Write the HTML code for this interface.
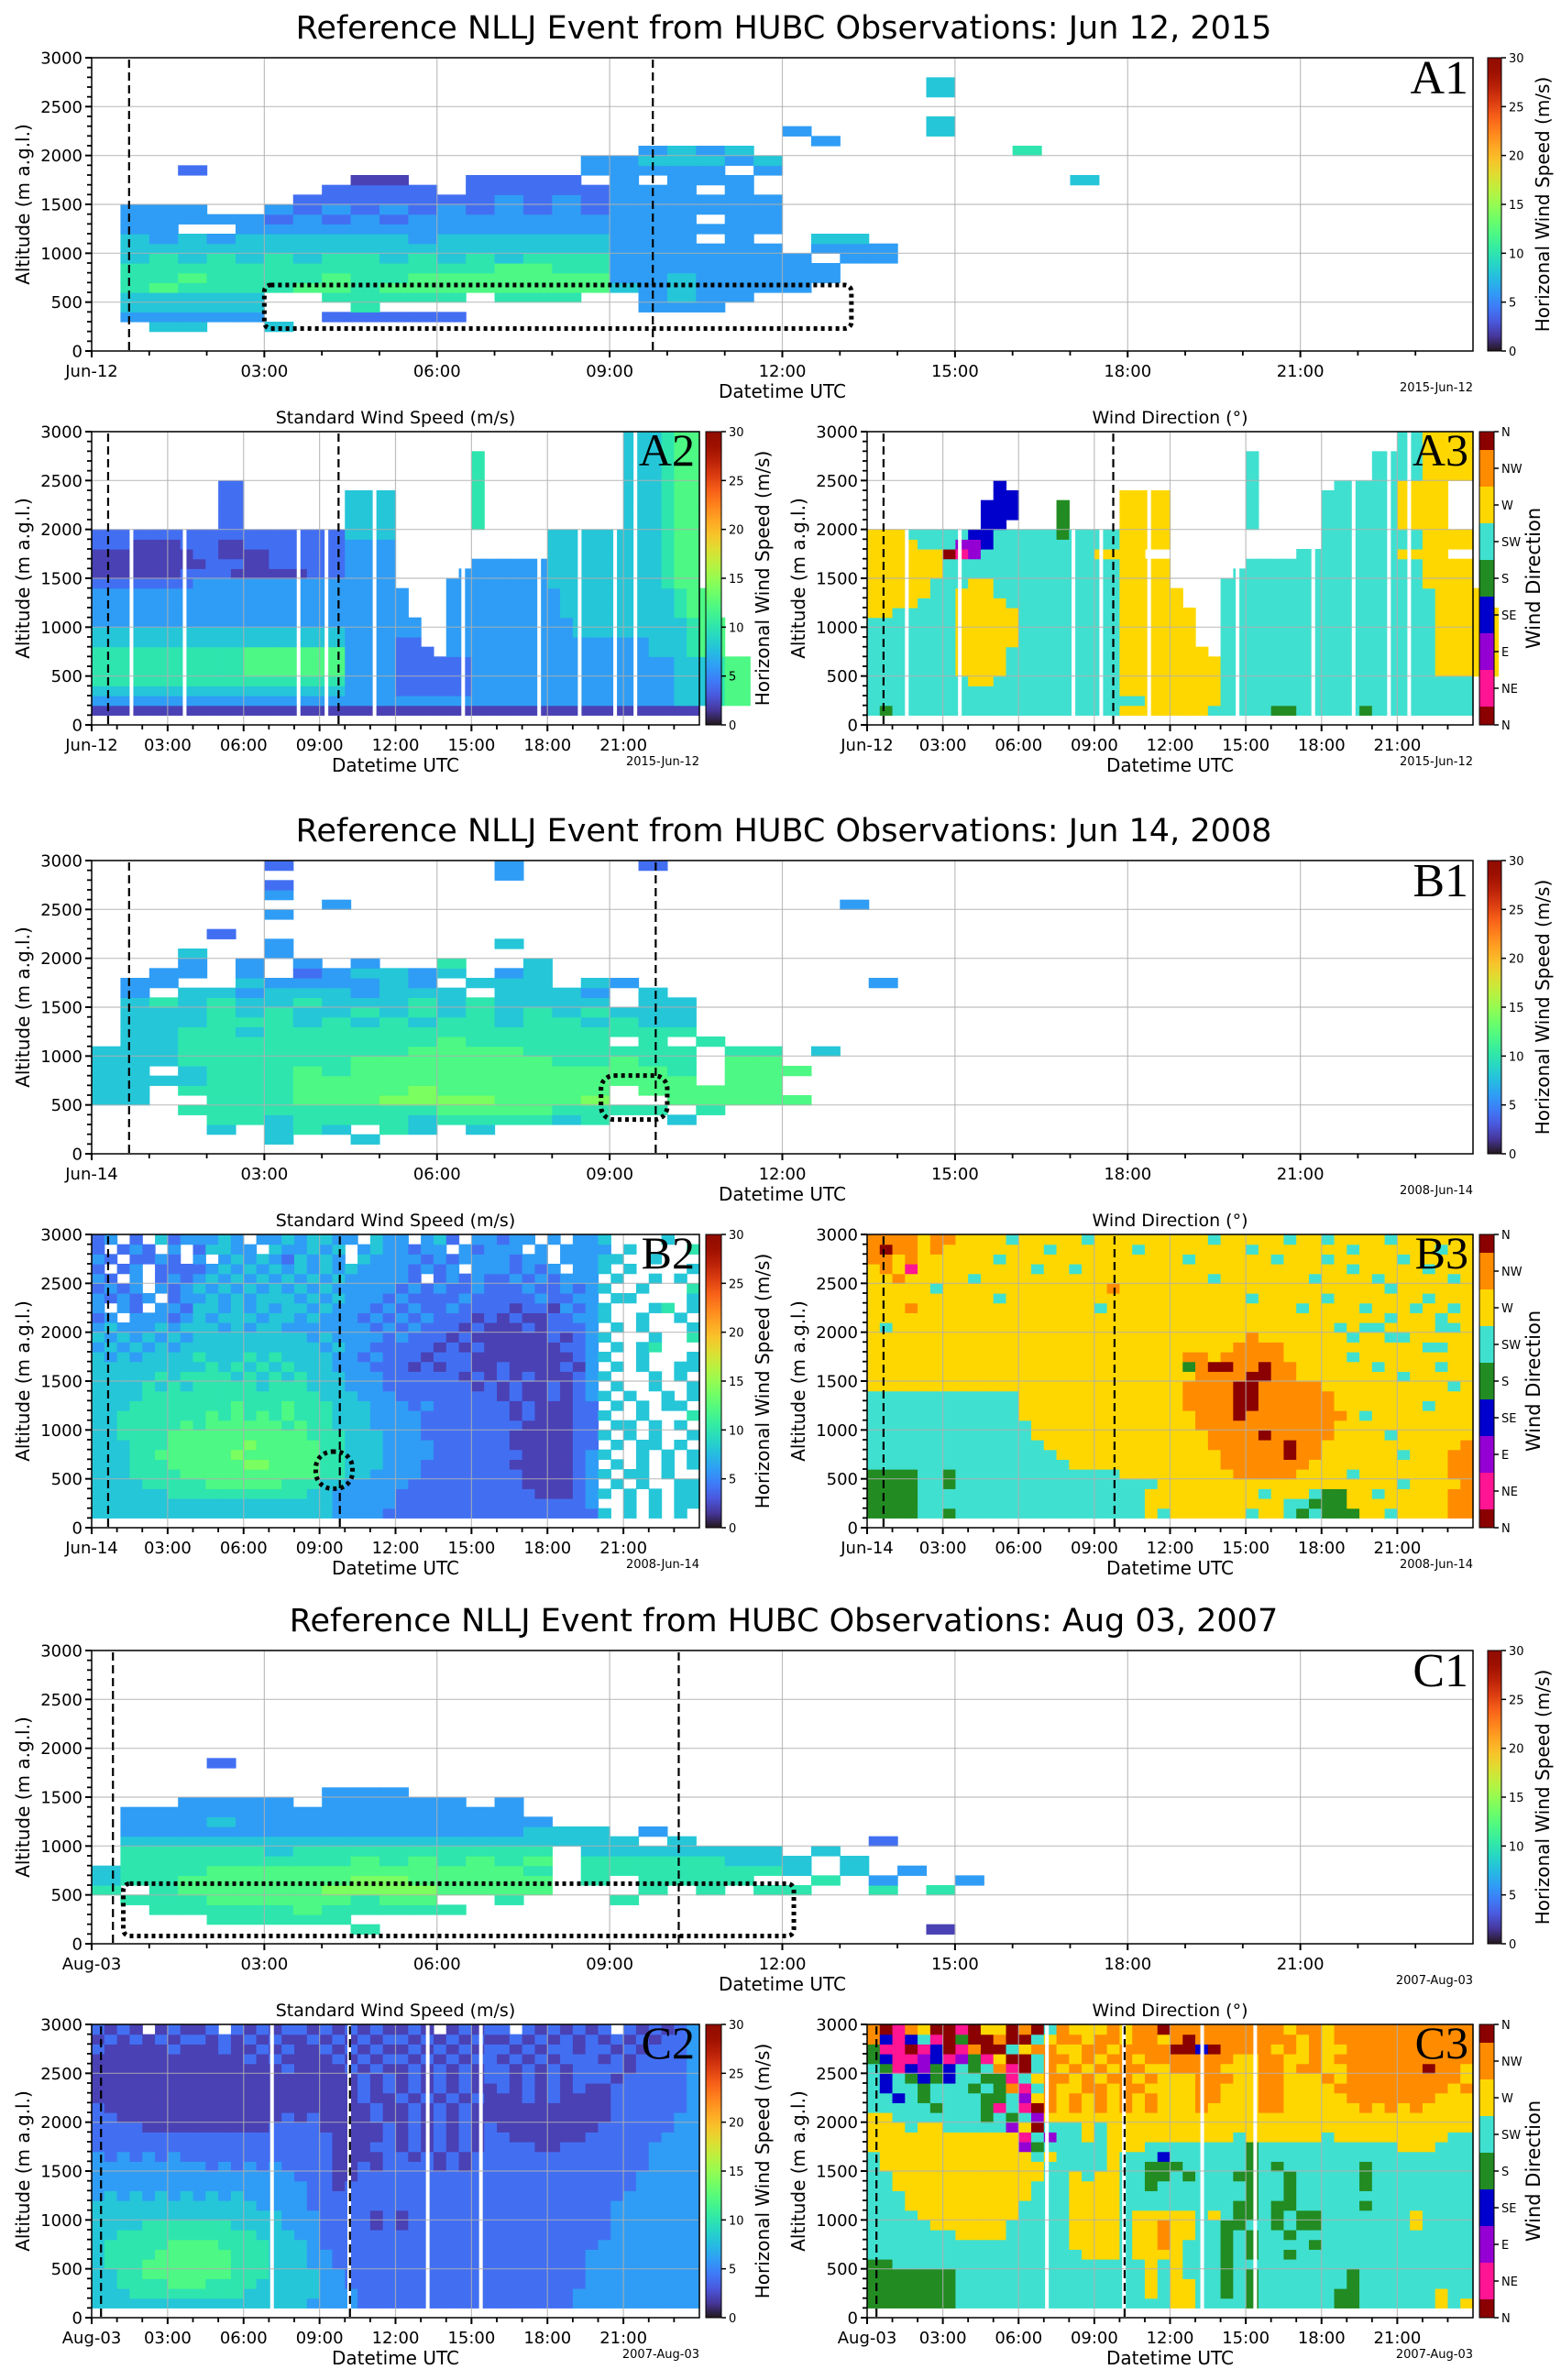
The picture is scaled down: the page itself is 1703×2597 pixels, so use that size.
<!DOCTYPE html>
<html><head><meta charset="utf-8"><title>Reference NLLJ Events</title>
<style>
html,body{margin:0;padding:0;background:#fff;}
svg{display:block;font-family:"DejaVu Sans","Liberation Sans",sans-serif;}
</style></head>
<body>
<svg id="fig" xmlns="http://www.w3.org/2000/svg" width="1703" height="2597" viewBox="0 0 1703 2597">
<defs>
<linearGradient id="turboGrad" x1="0" y1="1" x2="0" y2="0"></linearGradient>
</defs>
</svg>
<script>
// ---------------- DATA ----------------
// Speed grids: char digit d -> wind speed value d*2 m/s ; '.' = no data
// Direction grids: t=SW w=W o=NW r=N p=NE e=E b=SE s=S
// Rows keyed by bottom altitude (m) of 100 m bins; columns = 30 min bins (48 per day)
const sectionTitles = ["Reference NLLJ Event from HUBC Observations: Jun 12, 2015","Reference NLLJ Event from HUBC Observations: Jun 14, 2008","Reference NLLJ Event from HUBC Observations: Aug 03, 2007"];
const dayLabels = ["Jun-12","Jun-14","Aug-03"];
const dateNotes = ["2015-Jun-12","2008-Jun-14","2007-Aug-03"];
const xTickHours = [0,3,6,9,12,15,18,21];
const xTickTimes = ["03:00","06:00","09:00","12:00","15:00","18:00","21:00"];
const yTickValues = [0,500,1000,1500,2000,2500,3000];
const speedTicks = [0,5,10,15,20,25,30];
const dirTicks = ["N","NE","E","SE","S","SW","W","NW","N"];
const dashedA = [0.65,9.75];
const dashedB = [0.65,9.8];
const dashedC = [0.37,10.2];
const boxA1 = [3.0,13.2,230,675];
const boxB1 = [8.85,10.0,350,800];
const boxB2 = [8.85,10.3,400,778];
const boxC1 = [0.55,12.2,80,615];
const gapsA2 = [1.5,3.6,8.1,9.2,11.1,14.6,17.6,19.2,20.6,21.4];
const gapsA3 = [1.5,3.6,8.1,9.2,11.1,14.6,17.6,19.2,20.6,21.4];
const gapsC2 = [7.05,10.1,13.2,15.3];
const gapsC3 = [7.05,10.1,13.2,15.3];

const a1Rows = {
2700:"........|........|........|.....4..|........|........",
2600:"........|........|........|.....4..|........|........",
2300:"........|........|........|.....4..|........|........",
2200:"........|........|........|3....4..|........|........",
2100:"........|........|........|.3......|........|........",
2000:"........|........|...3434.|........|5.......|........",
1900:"........|........|.3344434|........|........|........",
1800:"...2....|........|.33333.3|........|........|........",
1700:"........|.11..222|2.3.333.|........|..4.....|........",
1600:"........|2222.222|22333.3.|........|........|........",
1500:".......2|22222232|32333333|........|........|........",
1400:".333..32|32323232|32333333|........|........|........",
1300:".3333323|23233333|33333.33|........|........|........",
1200:".33..333|33333333|33333333|........|........|........",
1100:".4343444|44434444|44333.3.|.44.....|........|........",
1000:".4444444|44444444|44333333|.333....|........|........",
900:".4545454|55454545|55333333|3.33....|........|........",
800:".5555555|55555566|55333333|33......|........|........",
700:".5565555|65566666|66334333|33......|........|........",
600:".5655556|65666666|66434333|3.......|........|........",
500:".44444..|55555.55|5..3433.|........|........|........",
400:".44444..|.5......|...333..|........|........|........",
300:".33333..|22222...|........|........|........|........",
200:"..44..4.|........|........|........|........|........"
};
const a2Rows = {
2900:".42 43 5 62",2800:".42 43 5 62",2700:".30 5 .11 43 5 62",2600:".30 5 .11 43 5 62",2500:".30 5 .11 43 5 62",
2400:".10 22 .18 5 .11 43 5 62",2300:".10 22 .8 44 .6 5 .11 43 5 62",2200:".10 22 .8 44 .6 5 .11 43 5 62",
2100:".10 22 .8 44 .6 5 .11 43 5 62",2000:".10 22 .8 44 .6 5 .11 43 5 62",
1900:"220 44 .12 46 43 5 62",1800:"23 14 23 12 28 34 .12 46 43 5 62",1700:"18 22 14 26 34 .12 46 43 5 62",
1600:"19 23 12 26 34 .6 36 46 43 5 62",1500:"17 24 16 23 34 .5 37 46 43 5 62",1400:"28 312 34 .4 38 46 43 5 62",
1300:"320 34 3 .3 39 46 43 5 62",1200:"320 34 3 .3 39 46 43 5 62",1100:"320 34 3 .3 39 46 43 5 62",
1000:"320 34 32 .2 310 46 43 5 62",900:"420 34 32 .2 310 46 43 5 62",800:"420 34 22 .2 310 36 43 5 62",
700:"512 68 34 23 . 310 36 43 5 62",600:"512 68 34 26 310 36 43 5 62",500:"512 68 34 26 310 36 43 5 62",
400:"520 34 26 310 36 43 5 62",300:"420 34 26 310 36 43 5 62",200:"320 34 36 310 36 43 5 62",100:"148"
};
const a3Rows = {
2900:".42 t2 w4",2800:".42 t2 w4",2700:".30 t .9 t4 w4",2600:".30 t .9 t4 w4",2500:".30 t .9 t4 w4",
2400:".10 b .19 t .6 t5 w4",2300:".10 b2 .8 w4 .6 t .5 t6 w4",2200:".9 b3 .3 s .4 w4 .6 t .5 t6 w4",
2100:".9 b3 .3 s .4 w4 .6 t .5 t6 w4",2000:".9 b2 .4 s .4 w4 .6 t .5 t6 w4",
1900:"w3 t5 b2 t5 s t4 w4 .12 t6 t2 w4",1800:"w4 t3 e2 b t10 w4 .12 t6 t2 w4",1700:"w6 r p e t9 w4 .12 t6 t2 w4",
1600:"w6 t14 w4 .6 t6 t6 t2 w4",1500:"w6 t14 w4 .5 t7 t6 t2 w4",1400:"w5 t3 w2 t10 w4 .4 t8 t6 t2 w4",
1300:"w5 t2 w3 t10 w5 .3 t9 t6 t2 w4",1200:"w4 t3 w4 t9 w5 .3 t9 t6 t2 w4",1100:"w2 t5 w5 t8 w6 .2 t10 t6 t w5",
1000:"t7 w5 t8 w6 .2 t10 t6 t w5",900:"t7 w5 t8 w6 .2 t10 t6 t w5",800:"t7 w5 t8 w6 .2 t10 t6 t w5",
700:"t7 w4 t9 w7 . t10 t6 t w5",600:"t7 w4 t9 w8 t10 t6 t w5",500:"t7 w4 t9 w8 t10 t6 t w5",
400:"t8 w2 t10 w8 t20",300:"t20 w8 t20",200:"t22 w6 t20",100:"t s t18 w7 t5 s2 t5 s t8"
};
const b1Rows = {
2900:"......2.|......3.|...2....|........|........|........",
2800:"........|......3.|........|........|........|........",
2700:"......2.|........|........|........|........|........",
2600:"......3.|........|........|........|........|........",
2500:"........|3.......|........|..3.....|........|........",
2400:"......3.|........|........|........|........|........",
2200:"....2...|........|........|........|........|........",
2100:"......3.|......4.|........|........|........|........",
2000:"...4..3.|........|........|........|........|........",
1900:"...3.3.3|.3..5..4|........|........|........|........",
1800:"..33.3.2|34434.34|........|........|........|........",
1700:".33..433|3343.444|.43.....|...3....|........|........",
1600:".3.44344|43444.44|43.4....|........|........|........",
1500:".4545445|44454544|44.44...|........|........|........",
1400:".4445454|45454545|45444...|........|........|........",
1300:".4445554|54545545|54544...|........|........|........",
1200:".4455455|55555555|55555...|........|........|........",
1100:".4455555|55556555|55.5.5..|........|........|........",
1000:"44455555|55566665|55555.55|.4......|........|........",
900:"44455555|56666666|55655.66|........|........|........",
800:"44.45556|56666666|66665.66|6.......|........|........",
700:"44445556|66666666|66666.66|........|........|........",
600:"44.55556|66676666|66.66666|........|........|........",
500:"44..5556|66777766|67..6666|6.......|........|........",
400:"...55555|55556666|5555.5..|........|........|........",
300:"....5545|55545555|45..4...|........|........|........",
200:"....4.45|4.54.4..|........|........|........|........",
100:"......4.|.4......|........|........|........|........"
};
const b2Rows = {
2900:"23.2.423|3343.334|34433.43|3.342.33|233.3.33|4....4..",
2800:"2.232.3.|24433.43|3434.343|3233.323|33.3.333|3.4....5",
2700:"32.2232.|3.343432|4343.433|33232333|3233.333|44..4...",
2600:"2.23.222|23434343|43434333|32323.33|32323.33|4.4....4",
2500:"32.3.232|34343434|34343333|32.23232|23232333|.4..4.4.",
2400:"2323.323|43434343|43433333|23232232|22322323|4..4...5",
2300:"32323.23|34343444|34343332|32222322|22232233|.44....4",
2200:"3.32.332|44343434|43433323|23223222|21221323|4...45.4",
2100:"23.33323|43444344|34333232|32322212|12112233|4..4..4.",
2000:"34333434|44343443|33333323|23222121|11212223|.4.4...4",
1900:"43434343|44444444|43433332|32221211|11112123|4...4..5",
1800:"34343434|44444444|44343322|22212121|11111223|.4.45...",
1700:"43434444|54445454|44433232|22122211|11111123|4..4...4",
1600:"44444444|45454545|44433322|21212211|21111213|.4.4..44",
1500:"44444545|55545454|54443332|22222121|21211123|4...4.4.",
1400:"44445454|55555455|54443332|22222212|12112123|.4..4..4",
1300:"44445555|55555555|55444333|22222222|12112123|4.4..4.4",
1200:"44455555|55565556|55544433|32322222|21211122|.4.4.44.",
1100:"44555555|56565656|55544433|33222222|21211122|4..4...5",
1000:"44555556|56666665|65544433|33222222|22111122|.44.4.4.",
900:"44555566|66666666|65554443|33222222|21111122|4.4.4..4",
800:"44455566|66667666|66554443|33322222|21111122|.4.44.4.",
700:"44455666|66676666|66554443|33322222|22111123|4..4.4.4",
600:"44455566|66667766|66554443|33222222|21111123|.4.4.4.4",
500:"44455556|66666666|66554433|33222222|22111123|4.44.4..",
400:"44445555|56666665|55443333|32222222|22111123|.4.4..44",
300:"44444455|55555555|54433333|22222222|22211123|4.4.4.44",
200:"44444444|44444444|44433333|22222222|22222223|..4.4.44",
100:"44444444|44444444|44433332|22222222|22222222|4.4.4.4."
};
const b3Rows = {
2900:"oooowoow|wwwtwwww|wtwwwwww|wwwtwwww|wtwwtwww|wtwwwwww",
2800:"oroowoww|wwwwwwtw|wwwwwtww|wwwwwwtw|wwwwwwtw|wwwwwtww",
2700:"oowowwww|wwtwwwww|wwwwwwww|wtwwwwww|twwwtwww|wwtwwwww",
2600:"wowpwwww|wwwwwtww|twwwwwww|wwwwwwww|wwwwwwtw|wwwwtwww",
2500:"wwowwwww|twwwwwww|wwwwwwww|wwwtwwww|wwwtwwww|twwwwwtw",
2400:"wwwwwtww|wwwwwwww|wwwowwww|wwwwwwww|wwwwwwww|wtwwwwww",
2300:"wwwwwwww|wwtwwwww|wwwwwwww|wwwwwwtw|wwwwtwww|wwwwtwww",
2200:"wwwowwww|wwwwwwww|wwtwwwww|wwwwwwww|wwtwwwwt|wwwtwwtw",
2100:"wwwwwwww|wwwwwwww|wwwwwwww|wwwwwwww|wwwwwwww|wtwwwtww",
2000:"wtwwwwww|wwwwwwww|wwwwwwww|wwwwwwww|wwwwwtwt|twwwwttw",
1900:"wwwwwwww|wwwwwwww|wwwwwwww|wwwwwwow|wwwwwwtw|wttwwwww",
1800:"wwwwwwww|wwwwwwww|wwwwwwww|wwwwwooo|owwwwwww|wwwwttww",
1700:"wwwwwwww|wwwwwwww|wwwwwwww|woowoooo|owwwwwtw|wwwwwwww",
1600:"wwwwwwww|wwwwwwww|wwwwwwww|wsorroor|oowwwwww|twwwwtww",
1500:"wwwwwwww|wwwwwwww|wwwwwwww|wwoooorr|oowwwwww|wwtwwwww",
1400:"wwwwwwww|wwwwwwww|wwwwwwww|woooorro|oooowwww|wwwwwwtw",
1300:"tttttttt|ttttwwww|wwwwwwww|woooorro|ooooowww|wwwwwwww",
1200:"tttttttt|ttttwwww|wwwwwwww|woooorro|ooooowww|wwwwtwww",
1100:"tttttttt|ttttwwww|wwwwwwww|wwoooroo|oooooowt|wwwwwwww",
1000:"tttttttt|tttttwww|wwwwwwww|wwoooooo|ooooowww|wwwwwwww",
900:"tttttttt|tttttwww|wwwwwwww|wwwoooor|ooooowww|wtwwwwww",
800:"tttttttt|ttttttww|wwwwwwww|wwwooooo|oroowwww|wwwwwwwo",
700:"tttttttt|tttttttw|wwwwwwww|wwwwoooo|oroowwww|wwtwwwoo",
600:"tttttttt|tttttttt|wwwwwwww|wwwwoooo|ooowwwww|wwwwwwoo",
500:"ssssttst|tttttttt|ttttwwww|wwwwwooo|oowwwwtw|wwwwwwoo",
400:"ssssttst|tttttttt|tttttttw|wwwwwwww|wwwwwwww|wwtwwwwo",
300:"sssstttt|tttttttt|ttttttww|wwwwwwwt|wwwtssww|twwwwwoo",
200:"sssstttt|tttttttt|ttttttww|wwwwwwww|wttsssww|wwwwwwoo",
100:"ssssttst|tttttttt|ttttttwt|wwwwwwtw|wtstsssw|wtwwwwoo"
};
const c1Rows = {
1800:"....2...|........|........|........|........|........",
1500:"........|333.....|........|........|........|........",
1400:"...3333.|33333.3.|........|........|........|........",
1300:".3333333|3333333.|........|........|........|........",
1200:".3334333|33333333|........|........|........|........",
1100:".3333333|33333334|44.3....|........|........|........",
1000:".4444444|44444444|444.4...|...2....|........|........",
900:".5555545|55555555|.4444444|.4......|........|........",
800:".5555555|56565656|.5555544|4.4.....|........|........",
700:"45556666|66666665|.5555555|4.4.3...|........|........",
600:"45566666|67766666|.5.5555.|.5.3..3.|........|........",
500:"5.566666|77776666|...5.5.5|5..5.5..|........|........",
400:".5556666|6566..5.|..5.....|........|........|........",
300:"..555556|55555...|........|........|........|........",
200:"....5555|5.......|........|........|........|........",
100:"........|.5......|........|.....1..|........|........"
};
const c2Rows = {
2900:"2121.121|12.21212|21212121|121.1212|2.212121|2.212123",
2800:"12121212|21212121|12121212|21212121|12121212|12121223",
2700:"21111121|11211212|11212121|12121212|21212212|21212223",
2600:"11111111|11112121|11121212|21212122|12121222|12122223",
2500:"11111111|11111112|11112121|12121212|21212122|22122223",
2400:"11111111|11111111|11111212|12121212|21212122|21222223",
2300:"11111111|11111111|11111212|12121211|21212121|12222223",
2200:"11111111|11111111|11111211|21212121|11212111|12222223",
2100:"21111111|11111111|11111121|12121211|11111111|12222223",
2000:"22111111|11111112|12111121|12121211|11111111|12222233",
1900:"22221111|11111122|22111112|12121212|11111111|22222233",
1800:"22222222|22222222|22211112|12121212|21111112|22222333",
1700:"22222222|22222222|22211122|12121212|22211222|22223333",
1600:"32323232|22222222|22211112|21212122|22222222|22223333",
1500:"33333333|32323232|22211212|22212122|22222222|22223333",
1400:"33333333|33333333|22211222|22222222|22222222|22233333",
1300:"33333333|33333333|32212222|22222222|22222222|22233333",
1200:"34343434|34343333|32222222|22222222|22222222|22333333",
1100:"44444444|44444333|32222222|22222222|22222222|23333333",
1000:"44444444|44444443|33222212|12222222|22222222|23333333",
900:"44445555|55544443|33222212|12222222|22222222|23333333",
800:"44555555|55555444|33222222|22222222|22222222|23333333",
700:"45555566|66555544|43222222|22222222|22222222|33333333",
600:"45555666|66655544|43322222|22222222|22222223|33333333",
500:"45556666|66655544|43322222|22222222|22222223|33333333",
400:"44556666|66655544|44332222|22222222|22222223|33333333",
300:"44555566|65555444|44332222|22222222|22222223|33333333",
200:"44455555|55554444|44333222|22222222|22222233|33333333",
100:"44444444|44444444|43333222|22222222|22222233|33333333"
};
const c3Rows = {
2900:"orpowrrp|rwwrorto|wwwowoor|oooooooo|owoowooo|oooooooo",
2800:"obpbtprs|rrorrtwo|owoowoow|oroooooo|oowowooo|oooooooo",
2700:"spprpbrp|orrtwoow|woowoooo|rrbroooo|wowowwoo|oooooooo",
2600:"sbppebpe|spwrrtoo|wowoowoo|ooooowwo|owwowooo|oooooooo",
2500:"tspbesbt|stoprtow|owowooww|oooowwwo|owoowwoo|ooooroow",
2400:"tbtsbsbt|tssptwoo|wowoowow|wwooowwo|owwwowoo|ooooooow",
2300:"tbttsttt|stsoptow|woowooww|wwoowwwo|owwwwooo|oooooowo",
2200:"ttbtsttt|tsstewow|owowowow|wwoowwwo|owwwwwoo|ooooowww",
2100:"tttttstt|tsptprow|owowowow|wwowwwwo|owwwwwwo|wowowwww",
2000:"wwtttttt|tststeww|wwwwwwww|wwwwwwww|wwwwwwww|wwwwwwww",
1900:"wwwtwwtt|tttewrtt|twtwwwww|wwwwwwww|wwwwwwww|wwwwwwww",
1800:"wwwwwwww|wwwwptet|twtwwwww|wwwwwtww|wwwwtwww|wwwwwwtt",
1700:"wwwwwwww|wwwwestt|tttwwwtt|ttttttst|tttttttt|ttwwwttt",
1600:"twwwwwww|wwwwwtwt|tttwtttb|ttttttst|tttttttt|tttttttt",
1500:"twwwwwww|wwwwwwtt|tttwttss|stttttst|stttttts|tttttttt",
1400:"ttwwwwww|wwwwwwtt|wtwwttss|tstttsst|tsttttts|tttttttt",
1300:"ttwwwwww|wwwwwttt|wwwwttst|ttttttst|tsttttts|tttttttt",
1200:"tttwwwww|wwwwwttt|wwwwtttt|ttttttst|tstttttt|tttttttt",
1100:"tttwwwww|wwwwtttt|wwwwtttt|tttttsst|ssttttts|tttttttt",
1000:"ttttwwww|wwwwtttt|wwwwtwww|wwtwtsst|stsstttt|tttwtttt",
900:"tttttwww|wwwttttt|wwwwtwwo|wwttsstt|stsstttt|tttwtttt",
800:"tttttttw|wwwttttt|wwwwtwwo|wwttstst|tstttttt|tttttttt",
700:"tttttttt|tttttttt|wwwwtwwo|wtttstst|tttstttt|tttttttt",
600:"tttttttt|tttttttt|twwwtwww|wtttstst|tstttttt|tttttttt",
500:"sstttttt|tttttttt|ttttttwt|wtttsttt|tttttttt|tttttttt",
400:"ssssssst|tttttttt|ttttttwt|wtttstst|ttttttst|tttttttt",
300:"ssssssst|tttttttt|ttttttwt|wwttstst|ttttttst|tttttttt",
200:"ssssssst|tttttttt|ttttttwt|wwttstst|tttttsst|tttttwtt",
100:"ssssssst|tttttttt|tttttttt|wwttttst|tttttsst|tttttwtw"
};

// ---------------- RENDERING ----------------
const NS = "http://www.w3.org/2000/svg";
const svg = document.getElementById('fig');
function mk(tag, parent){ const e=document.createElementNS(NS,tag); (parent||svg).appendChild(e); return e; }
function turbo(t){
  t=Math.max(0,Math.min(1,t));
  const r=34.61+t*(1172.33-t*(10793.56-t*(33300.12-t*(38394.49-t*14825.05))));
  const g=23.31+t*(557.33+t*(1225.33-t*(3574.96-t*(1073.77+t*707.56))));
  const b=27.2+t*(3211.1-t*(15327.97-t*(27814-t*(22569.18-t*6838.66))));
  const c=v=>Math.max(0,Math.min(255,Math.round(v)));
  return 'rgb('+c(r)+','+c(g)+','+c(b)+')';
}
const DIRC={r:'#8b0000',p:'#ff1493',e:'#9400d3',b:'#0000cd',s:'#228b22',t:'#40e0d0',w:'#ffd700',o:'#ff8c00'};
const DIRSEG=['#8b0000','#ff1493','#9400d3','#0000cd','#228b22','#40e0d0','#ffd700','#ff8c00','#8b0000'];
function parseRow(s){
  if(!s) return [];
  if(s.indexOf('|')>=0) return s.replace(/\|/g,'').split('');
  const out=[];
  s.trim().split(/\s+/).forEach(tok=>{const c=tok[0]; const n=tok.length>1?parseInt(tok.slice(1)):1; for(let i=0;i<n;i++) out.push(c);});
  return out;
}
const grad=document.getElementById('turboGrad');
for(let i=0;i<=20;i++){ const st=mk('stop',grad); st.setAttribute('offset',(i/20)); st.setAttribute('stop-color',turbo(i/20)); }

function txt(parent, x, y, s, size, anchor, extra){
  const t=mk('text',parent); t.setAttribute('x',x); t.setAttribute('y',y);
  t.setAttribute('font-size',size); t.setAttribute('text-anchor',anchor||'start'); t.setAttribute('fill','#000');
  if(extra) for(const k in extra) t.setAttribute(k,extra[k]);
  t.textContent=s; return t;
}

function drawPanel(p){
  const g=mk('g');
  
  
  const xs=h=>p.x+h/24*p.w, ys=a=>p.y+p.h-a/3000*p.h;
  const cg=mk('g',g);
  
  
  for(let alt=0; alt<3000; alt+=100){
    const cells=parseRow(p.rows[alt]);
    cells.forEach((c,ci)=>{
      if(c==='.') return;
      const col = p.dir ? DIRC[c] : turbo((parseInt(c)*2)/30);
      if(!col) return;
      const r=mk('rect',cg);
      const x0=xs(ci*0.5), x1=xs((ci+1)*0.5), y0=ys(alt+100), y1=ys(alt);
      r.setAttribute('x',x0.toFixed(2)); r.setAttribute('y',y0.toFixed(2));
      r.setAttribute('width',(x1-x0+0.6).toFixed(2)); r.setAttribute('height',(y1-y0+0.6).toFixed(2));
      r.setAttribute('fill',col);
    });
  }
  (p.gaps||[]).forEach(h=>{
    const r=mk('rect',g);
    
    
    r.setAttribute('x',xs(h)); r.setAttribute('y',p.y); r.setAttribute('width',Math.max(4,xs(h+0.12)-xs(h))); r.setAttribute('height',p.h);
    r.setAttribute('fill','#fff');
  });
  xTickHours.forEach(h=>{ if(h===0) return; const l=mk('line',g);
    
    
    l.setAttribute('x1',xs(h)); l.setAttribute('x2',xs(h)); l.setAttribute('y1',p.y); l.setAttribute('y2',p.y+p.h);
    l.setAttribute('stroke','#b0b0b0'); l.setAttribute('stroke-width','1.2'); l.setAttribute('opacity','0.8'); });
  yTickValues.forEach(v=>{ if(v===0) return; const l=mk('line',g);
    
    
    l.setAttribute('x1',p.x); l.setAttribute('x2',p.x+p.w); l.setAttribute('y1',ys(v)); l.setAttribute('y2',ys(v));
    l.setAttribute('stroke','#b0b0b0'); l.setAttribute('stroke-width','1.2'); l.setAttribute('opacity','0.8'); });
  p.dashes.forEach(h=>{ const l=mk('line',g);
    
    
    l.setAttribute('x1',xs(h)); l.setAttribute('x2',xs(h)); l.setAttribute('y1',p.y+2); l.setAttribute('y2',p.y+p.h);
    l.setAttribute('stroke','#000'); l.setAttribute('stroke-width','2.2'); l.setAttribute('stroke-dasharray','9 5'); });
  if(p.box){ const b=p.box; const r=mk('rect',g);
    
    
    r.setAttribute('x',xs(b[0])); r.setAttribute('y',ys(b[3])); r.setAttribute('width',xs(b[1])-xs(b[0])); r.setAttribute('height',ys(b[2])-ys(b[3]));
    r.setAttribute('rx',p.boxR||7); r.setAttribute('fill','none'); r.setAttribute('stroke','#000'); r.setAttribute('stroke-width','5'); r.setAttribute('stroke-dasharray','4 4'); }
  const fr=mk('rect',g);
  
  
  fr.setAttribute('x',p.x); fr.setAttribute('y',p.y); fr.setAttribute('width',p.w); fr.setAttribute('height',p.h);
  fr.setAttribute('fill','none'); fr.setAttribute('stroke','#000'); fr.setAttribute('stroke-width','1.5');
  for(let a=0;a<=3000;a+=100){ const major=a%500===0; const l=mk('line',g);
    
    
    l.setAttribute('x1',p.x-(major?7:5)); l.setAttribute('x2',p.x); l.setAttribute('y1',ys(a)); l.setAttribute('y2',ys(a));
    l.setAttribute('stroke','#000'); l.setAttribute('stroke-width',major?2:1.8); }
  yTickValues.forEach(v=>{ const t=txt(g,p.x-10,ys(v)+6.5,String(v),18,'end');
    
     });
  for(let h=0;h<24;h++){ const major=h%3===0; const l=mk('line',g);
    
    
    l.setAttribute('x1',xs(h)); l.setAttribute('x2',xs(h)); l.setAttribute('y1',p.y+p.h); l.setAttribute('y2',p.y+p.h+(major?7:5));
    l.setAttribute('stroke','#000'); l.setAttribute('stroke-width',major?2:1.8); }
  const labels=[p.day].concat(xTickTimes);
  xTickHours.forEach((h,i)=>{ const t=txt(g,xs(h),p.y+p.h+28,labels[i],18,'middle');
    
     });
  const xl=txt(g,p.x+p.w/2,p.y+p.h+51,'Datetime UTC',20,'middle');
  
  
  const yl=txt(g,0,0,'Altitude (m a.g.l.)',20,'middle',{transform:'translate('+(p.x-68)+','+(p.y+p.h/2)+') rotate(-90)'});
  
  
  const dn=txt(g,p.x+p.w,p.y+p.h+44,p.date,13,'end');
  
  
  const lt=txt(g,p.x+p.w-5,p.y+(p.wide?39:37),p.letter,p.wide?52:50,'end',{'font-family':'"Liberation Serif",serif'});
  
  
  if(p.subtitle){ const st=txt(g,p.x+p.w/2,p.y-9,p.subtitle,19,'middle');
    
     }
  const cb=mk('g',g);
  
  
  if(!p.dir){
    const r=mk('rect',cb); r.setAttribute('x',p.cbx); r.setAttribute('y',p.y); r.setAttribute('width',p.cbw); r.setAttribute('height',p.h); r.setAttribute('fill','url(#turboGrad)'); r.setAttribute('stroke','#000'); r.setAttribute('stroke-width','1');
    speedTicks.forEach(v=>{ const yy=p.y+p.h-v/30*p.h; const l=mk('line',cb);
      l.setAttribute('x1',p.cbx+p.cbw); l.setAttribute('x2',p.cbx+p.cbw+5); l.setAttribute('y1',yy); l.setAttribute('y2',yy); l.setAttribute('stroke','#000'); l.setAttribute('stroke-width','1.5');
      const t=txt(cb,p.cbx+p.cbw+8,yy+5,String(v),13,'start');
      
       });
    const ct=txt(cb,0,0,'Horizonal Wind Speed (m/s)',20,'middle',{transform:'translate('+(p.cbx+p.cbw+52)+','+(p.y+p.h/2)+') rotate(-90)'});
    
    
  } else {
    const seg=p.h/8;
    DIRSEG.forEach((c,i)=>{ const r=mk('rect',cb);
      const yc=p.y+p.h-i*seg; const y0=Math.max(p.y,yc-seg/2), y1=Math.min(p.y+p.h,yc+seg/2);
      r.setAttribute('x',p.cbx); r.setAttribute('y',y0); r.setAttribute('width',p.cbw); r.setAttribute('height',y1-y0); r.setAttribute('fill',c); });
    const fr2=mk('rect',cb); fr2.setAttribute('x',p.cbx); fr2.setAttribute('y',p.y); fr2.setAttribute('width',p.cbw); fr2.setAttribute('height',p.h); fr2.setAttribute('fill','none'); fr2.setAttribute('stroke','#000');
    dirTicks.forEach((s,i)=>{ const yy=p.y+p.h-i*seg; const l=mk('line',cb);
      l.setAttribute('x1',p.cbx+p.cbw); l.setAttribute('x2',p.cbx+p.cbw+5); l.setAttribute('y1',yy); l.setAttribute('y2',yy); l.setAttribute('stroke','#000'); l.setAttribute('stroke-width','1.5');
      const t=txt(cb,p.cbx+p.cbw+8,yy+5,s,13,'start');
      
       });
    const ct=txt(cb,0,0,'Wind Direction',21,'middle',{transform:'translate('+(p.cbx+p.cbw+50)+','+(p.y+p.h/2)+') rotate(-90)'});
    
    
  }
}

const offsets=[0,876,1738];
const sets=[
 {r1:a1Rows,r2:a2Rows,r3:a3Rows,d:dashedA,box1:boxA1,box2:null,g2:gapsA2,g3:gapsA3,L:'A'},
 {r1:b1Rows,r2:b2Rows,r3:b3Rows,d:dashedB,box1:boxB1,box2:boxB2,g2:[],g3:[],L:'B'},
 {r1:c1Rows,r2:c2Rows,r3:c3Rows,d:dashedC,box1:boxC1,box2:null,g2:gapsC2,g3:gapsC3,L:'C'}
];
sets.forEach((s,i)=>{
  const off=offsets[i];
  const t=txt(svg,855,42+off,sectionTitles[i],35,'middle');
  
  
  drawPanel({name:'panel-'+s.L.toLowerCase()+'1-horizontal-wind-speed',x:100,y:63+off,w:1507,h:320,rows:s.r1,dir:false,dashes:s.d,box:s.box1,boxR:s.L==='B'?14:7,day:dayLabels[i],date:dateNotes[i],letter:s.L+'1',wide:true,cbx:1623,cbw:15});
  drawPanel({name:'panel-'+s.L.toLowerCase()+'2-standard-wind-speed',x:100,y:471+off,w:663,h:320,rows:s.r2,dir:false,dashes:s.d,box:s.box2,boxR:18,gaps:s.g2,day:dayLabels[i],date:dateNotes[i],letter:s.L+'2',subtitle:'Standard Wind Speed (m/s)',cbx:770,cbw:17});
  drawPanel({name:'panel-'+s.L.toLowerCase()+'3-wind-direction',x:946,y:471+off,w:661,h:320,rows:s.r3,dir:true,dashes:s.d,box:null,gaps:s.g3,day:dayLabels[i],date:dateNotes[i],letter:s.L+'3',subtitle:'Wind Direction (\u00B0)',cbx:1614,cbw:16});
});
</script>
</body></html>
